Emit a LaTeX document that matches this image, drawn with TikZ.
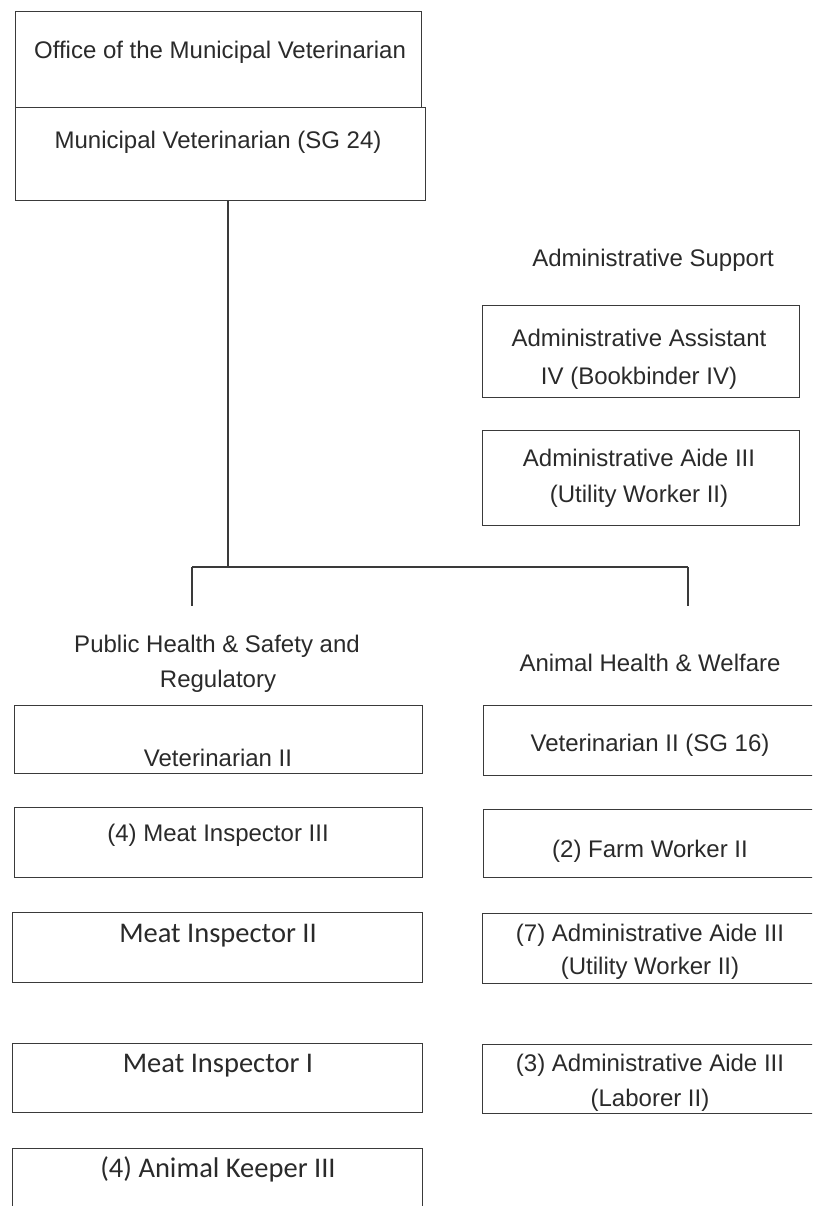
\documentclass[tikz,border=0pt]{standalone}
\usepackage{fontspec}
\setmainfont{Liberation Sans}
\newfontfamily\calfont{Carlito}
\definecolor{ink}{HTML}{2A2A2A}
\definecolor{edge}{HTML}{3A3A3A}
\begin{document}
\begin{tikzpicture}[x=1pt,y=-1pt,
  box/.style={draw=edge, line width=1.3pt, inner sep=0pt, anchor=north west},
  txt/.style={text=ink, inner sep=0pt, anchor=base, font=\fontsize{24}{28}\selectfont},
  ctxt/.style={text=ink, inner sep=0pt, anchor=base, font=\calfont\fontsize{28.5}{32}\selectfont},
  conn/.style={draw=edge, line width=1.2pt}]
\useasboundingbox (0,0) rectangle (812,1206);
\clip (0,0) rectangle (812,1206);
% top boxes
\node[box, minimum width=406pt, minimum height=96pt] (office) at (15,11) {};
\node[txt] (officet) at (220,59) {Office of the Municipal Veterinarian};
\node[box, minimum width=410pt, minimum height=93pt] (mv) at (15,107) {};
\node[txt] (mvt) at (218,149) {Municipal Veterinarian (SG 24)};
% administrative support
\node[txt] (ast) at (653,266) {Administrative Support};
\node[box, minimum width=317pt, minimum height=92pt] (aa) at (482,305) {};
\node[txt] (aat1) at (639,346) {Administrative Assistant};
\node[txt] (aat2) at (639,384) {IV (Bookbinder IV)};
\node[box, minimum width=317pt, minimum height=95pt] (aaide) at (482,430) {};
\node[txt] (aaidet1) at (639,466) {Administrative Aide III};
\node[txt] (aaidet2) at (639,502) {(Utility Worker II)};
% connectors
\coordinate (trunk) at (228,567);
\coordinate (jl) at (192,567);
\coordinate (jr) at (688,567);
\coordinate (dl) at (192,606);
\coordinate (dr) at (688,606);
\draw[conn] (mv.south -| trunk) -- (trunk);
\draw[conn] (jl) -- (jr);
\draw[conn] (jl) -- (dl);
\draw[conn] (jr) -- (dr);
% section headers
\node[txt] (pht1) at (217,652) {Public Health \& Safety and};
\node[txt] (pht2) at (218,687) {Regulatory};
\node[txt] (aht) at (650,671) {Animal Health \& Welfare};
% left column
\node[box, minimum width=408pt, minimum height=68pt] (vet2) at (14,705) {};
\node[txt] (vet2t) at (218,766) {Veterinarian II};
\node[box, minimum width=408pt, minimum height=70pt] (mi3) at (14,807) {};
\node[txt] (mi3t) at (218,841) {(4) Meat Inspector III};
\node[box, minimum width=410pt, minimum height=70pt] (mi2) at (12,912) {};
\node[ctxt] (mi2t) at (218,942) {Meat Inspector II};
\node[box, minimum width=410pt, minimum height=69pt] (mi1) at (12,1043) {};
\node[ctxt] (mi1t) at (218,1072) {Meat Inspector I};
\node[box, minimum width=410pt, minimum height=90pt] (ak) at (12,1148) {};
\node[ctxt] (akt) at (218,1177) {(4) Animal Keeper III};
% right column
\node[box, minimum width=350pt, minimum height=70pt] (vet16) at (483,705) {};
\node[txt] (vet16t) at (650,751) {Veterinarian II (SG 16)};
\node[box, minimum width=350pt, minimum height=68pt] (fw) at (483,809) {};
\node[txt] (fwt) at (650,857) {(2) Farm Worker II};
\node[box, minimum width=350pt, minimum height=70pt] (ad7) at (482,913) {};
\node[txt] (ad7t1) at (650,941) {(7) Administrative Aide III};
\node[txt] (ad7t2) at (650,974) {(Utility Worker II)};
\node[box, minimum width=350pt, minimum height=69pt] (ad3) at (482,1044) {};
\node[txt] (ad3t1) at (650,1071) {(3) Administrative Aide III};
\node[txt] (ad3t2) at (650,1106) {(Laborer II)};
\end{tikzpicture}
\end{document}
